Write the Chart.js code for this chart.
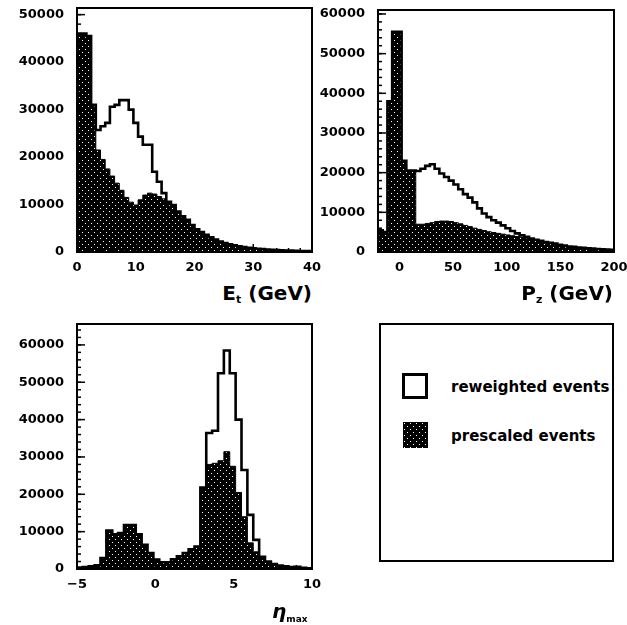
<!DOCTYPE html>
<html><head><meta charset="utf-8">
<script src="https://cdn.jsdelivr.net/npm/chart.js@4.4.1/dist/chart.umd.min.js"></script>
<style>
html,body{margin:0;padding:0;background:#fff;}
body{width:627px;height:625px;position:relative;overflow:hidden;font-family:"DejaVu Sans",sans-serif;font-weight:bold;color:#000;}
canvas.chart{position:absolute;}
.title{position:absolute;font-size:20px;font-weight:bold;white-space:nowrap;line-height:20px;}
.title sub{font-size:11px;vertical-align:-3px;line-height:0;}
#legend{position:absolute;left:379px;top:323px;width:235px;height:239px;border:2px solid #000;box-sizing:border-box;}
#legend .lt{position:absolute;left:70px;font-size:15px;line-height:15px;white-space:nowrap;}
</style></head><body>
<canvas class="chart" id="c1" width="325" height="280" style="left:0;top:0"></canvas>
<canvas class="chart" id="c2" width="322" height="280" style="left:318px;top:0"></canvas>
<canvas class="chart" id="c3" width="325" height="300" style="left:0;top:310px"></canvas>
<div class="title" style="right:315px;top:283px">E<sub>t</sub> (GeV)</div>
<div class="title" style="right:14px;top:283px">P<sub>z</sub> (GeV)</div>
<div class="title" style="left:272px;top:601px"><i>η</i><sub style="font-size:9px;vertical-align:-4px">max</sub></div>
<div id="legend">
  <div style="position:absolute;left:21px;top:48px;width:26px;height:26px;border:3px solid #000;box-sizing:border-box"></div>
  <div class="lt" style="top:55px">reweighted events</div>
  <canvas id="sw" width="25" height="26" style="position:absolute;left:22px;top:97px"></canvas>
  <div class="lt" style="top:104px">prescaled events</div>
</div>
<script>
// ---- data (bin contents) ----
const etRange = [0, 40];          // E_t (GeV), 50 bins
const etPrescaled = [46000, 46000, 45500, 31000, 21500, 19500, 17500, 16000, 14500, 13000,
  11500, 10500, 9900, 11000, 12000, 12400, 12200, 11700, 11200, 10600,
  9900, 8500, 7500, 6800, 5700, 4800, 4200, 3600, 3100, 2600,
  2200, 1900, 1600, 1400, 1200, 1050, 900, 800, 700, 600,
  520, 450, 400, 350, 300, 280, 250, 220, 200, 180];
const etReweighted = [46000, 46000, 45500, 31000, 25700, 26500, 27200, 30600, 31000, 32000,
  32000, 30000, 27200, 24300, 22600, 22600, 16900, 14800, 12400, 10600,
  9900, 8500, 7500, 6800, 5700, 4800, 4200, 3600, 3100, 2600,
  2200, 1900, 1600, 1400, 1200, 1050, 900, 800, 700, 600,
  520, 450, 400, 350, 300, 280, 250, 220, 200, 180];
const etXTicks = [0, 10, 20, 30, 40];
const etYTicks = [0, 10000, 20000, 30000, 40000, 50000];

const pzRange = [-20, 200];       // P_z (GeV), 50 bins
const pzPrescaled = [5500, 5000, 38000, 55500, 55500, 23000, 20500, 20500, 7000, 7000,
  7200, 7400, 7700, 7800, 7800, 7700, 7400, 7100, 6700, 6400,
  6000, 5700, 5400, 5100, 4900, 4700, 4500, 4300, 4100, 3900,
  3700, 3500, 3300, 3000, 2750, 2500, 2300, 2100, 1800, 1600,
  1400, 1300, 1150, 1050, 950, 850, 750, 700, 600, 550];
const pzReweighted = [5500, 5000, 38000, 55500, 55500, 23000, 20500, 20500, 20400, 21000,
  21700, 22100, 21000, 19800, 18900, 18000, 17000, 15800, 14600, 13700,
  12500, 11000, 9700, 8800, 8000, 7400, 6700, 6000, 5300, 4700,
  4200, 3800, 3400, 3100, 2800, 2500, 2300, 2100, 1800, 1600,
  1400, 1300, 1150, 1050, 950, 850, 750, 700, 600, 550];
const pzXTicks = [0, 50, 100, 150, 200];
const pzYTicks = [0, 10000, 20000, 30000, 40000, 50000, 60000];

const etaRange = [-5, 10];        // eta_max, 40 bins
const etaPrescaled = [400, 500, 700, 1000, 2900, 10300, 9300, 9600, 11800, 11800,
  9300, 6500, 4300, 2500, 1800, 1800, 2600, 3400, 4300, 5300,
  6000, 21800, 28000, 28300, 29000, 31400, 27500, 20500, 14000, 7000,
  4600, 3000, 2000, 1300, 900, 700, 500, 600, 300, 200];
const etaReweighted = [400, 500, 700, 1000, 2900, 10300, 9300, 9600, 11800, 11800,
  9300, 6500, 4300, 2500, 1800, 1800, 2600, 3400, 4300, 5300,
  6000, 21800, 36400, 37000, 52400, 58500, 52400, 40000, 26500, 14500,
  7800, 3300, 2000, 1300, 900, 700, 500, 600, 300, 200];
const etaXTicks = [-5, 0, 5, 10];
const etaYTicks = [0, 10000, 20000, 30000, 40000, 50000, 60000];

const seriesLabels = ['reweighted events', 'prescaled events'];

// ---- helpers ----
function histPoints(range, values) {
  const w = (range[1] - range[0]) / values.length;
  const pts = [{x: range[0], y: 0}];
  values.forEach((v, i) => pts.push({x: range[0] + i * w, y: v}));
  pts.push({x: range[1], y: 0});
  return pts;
}
function makePattern() {
  const c = document.createElement('canvas'); c.width = 6; c.height = 6;
  const g = c.getContext('2d');
  g.fillStyle = '#000'; g.fillRect(0, 0, 6, 6);
  g.fillStyle = '#fff'; g.fillRect(1, 1, 1, 1); g.fillRect(4, 4, 1, 1);
  return g.createPattern(c, 'repeat');
}
const hatch = makePattern();
{
  const s = document.getElementById('sw').getContext('2d');
  s.fillStyle = hatch; s.fillRect(0, 0, 25, 26);
}

const framePlugin = {
  id: 'frame',
  afterDraw(chart, args, o) {
    const {ctx, chartArea: a, scales: {x, y}} = chart;
    ctx.save();
    ctx.strokeStyle = '#000';
    ctx.lineWidth = 1.5;
    const marks = (scale, step, len, horiz) => {
      for (let v = Math.ceil(scale.min / step) * step; v <= scale.max + 1e-9; v += step) {
        const p = scale.getPixelForValue(v);
        ctx.beginPath();
        if (horiz) { ctx.moveTo(p, a.bottom); ctx.lineTo(p, a.bottom - len); }
        else { ctx.moveTo(a.left, p); ctx.lineTo(a.left + len, p); }
        ctx.stroke();
      }
    };
    marks(x, o.xMinor, 4, true); marks(x, o.xMajor, 8, true);
    marks(y, o.yMinor, 4, false); marks(y, o.yMajor, 8, false);
    ctx.lineWidth = 2;
    ctx.strokeRect(a.left, a.top, a.right - a.left, a.bottom - a.top);
    ctx.restore();
  }
};

const tickFont = {family: 'DejaVu Sans', size: 13, weight: 'bold'};
const fmt = v => (v < 0 ? '\u2212' + (-v) : String(v));

function makeChart(id, range, rew, pre, xTicks, yTicks, cfg) {
  return new Chart(document.getElementById(id), {
    type: 'line',
    data: {datasets: [
      {label: seriesLabels[0], data: histPoints(range, rew), stepped: true, borderColor: '#000',
       borderWidth: 2.6, pointRadius: 0, fill: false},
      {label: seriesLabels[1], data: histPoints(range, pre), stepped: true, borderColor: '#000',
       borderWidth: 1, pointRadius: 0, fill: 'origin', backgroundColor: hatch}
    ]},
    options: {
      responsive: false, animation: false, devicePixelRatio: 1,
      layout: {padding: cfg.pad},
      plugins: {legend: {display: false}, tooltip: {enabled: false}, frame: cfg.frame},
      scales: {
        x: {type: 'linear', min: range[0], max: range[1],
            grid: {display: false, drawTicks: false}, border: {display: false},
            ticks: {padding: 8, font: tickFont, color: '#000', callback: fmt,
                    maxRotation: 0, autoSkip: false},
            afterBuildTicks: s => { s.ticks = xTicks.map(v => ({value: v})); },
            afterFit: s => { s.height = cfg.xH; s.paddingLeft = 0; s.paddingRight = 0; }},
        y: {type: 'linear', min: 0, max: cfg.yMax,
            grid: {display: false, drawTicks: false}, border: {display: false},
            ticks: {padding: 13, font: tickFont, color: '#000', callback: fmt, autoSkip: false},
            afterBuildTicks: s => { s.ticks = yTicks.map(v => ({value: v})); },
            afterFit: s => { s.width = cfg.yW; s.paddingTop = 0; s.paddingBottom = 0; }}
      }
    },
    plugins: [framePlugin]
  });
}

makeChart('c1', etRange, etReweighted, etPrescaled, etXTicks, etYTicks, {
  pad: {top: 8, right: 13, left: 0, bottom: 0}, xH: 28, yW: 77, yMax: 51400,
  frame: {xMajor: 10, xMinor: 2, yMajor: 10000, yMinor: 2000}});
makeChart('c2', pzRange, pzReweighted, pzPrescaled, pzXTicks, pzYTicks, {
  pad: {top: 10, right: 26, left: 0, bottom: 0}, xH: 28, yW: 60, yMax: 61000,
  frame: {xMajor: 50, xMinor: 10, yMajor: 10000, yMinor: 2000}});
makeChart('c3', etaRange, etaReweighted, etaPrescaled, etaXTicks, etaYTicks, {
  pad: {top: 14, right: 13, left: 0, bottom: 0}, xH: 41, yW: 77, yMax: 65600,
  frame: {xMajor: 5, xMinor: 1, yMajor: 10000, yMinor: 2000}});
</script>
</body></html>
